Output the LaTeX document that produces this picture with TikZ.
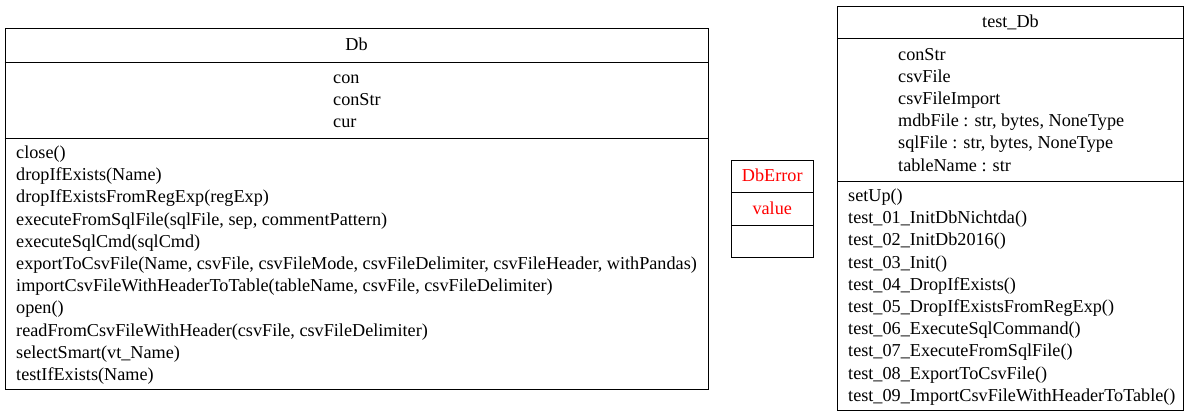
\documentclass[tikz,border=0pt]{standalone}
\usepackage{fontspec}
\setmainfont{Liberation Serif}
\tikzset{
  classbox/.style={draw=black, line width=1pt, inner sep=0pt, rectangle},
  sepline/.style={draw=black, line width=1pt},
  txt/.style={inner sep=0pt, anchor=base west, font=\fontsize{18.2}{22}\selectfont, text=black},
  ttl/.style={inner sep=0pt, anchor=base, font=\fontsize{18.2}{22}\selectfont, text=black},
  red/.style={text={rgb,255:red,255;green,0;blue,0}}
}
\begin{document}
\begin{tikzpicture}[x=1pt,y=-1pt]
\useasboundingbox (0,0) rectangle (1190,418);
% ---------- Db ----------
\node[classbox, minimum width=703pt, minimum height=361pt] (db) at (356.5,208.5) {};
\draw[sepline] (db.west |- 0,62) -- (db.east |- 0,62);
\draw[sepline] (db.west |- 0,138) -- (db.east |- 0,138);
\node[ttl] (dbt) at (356.5,50.5) {Db};
\node[txt] (dba1) at (333,83) {con};
\node[txt] (dba2) at (333,105.2) {conStr};
\node[txt] (dba3) at (333,127.4) {cur};
\node[txt] (dbm1) at (16,158.5) {close()};
\node[txt] (dbm2) at (16,180.7) {dropIfExists(Name)};
\node[txt] (dbm3) at (16,202.9) {dropIfExistsFromRegExp(regExp)};
\node[txt] (dbm4) at (16,225.1) {executeFromSqlFile(sqlFile, sep, commentPattern)};
\node[txt] (dbm5) at (16,247.3) {executeSqlCmd(sqlCmd)};
\node[txt] (dbm6) at (16,269.5) {exportToCsvFile(Name, csvFile, csvFileMode, csvFileDelimiter, csvFileHeader, withPandas)};
\node[txt] (dbm7) at (16,291.7) {importCsvFileWithHeaderToTable(tableName, csvFile, csvFileDelimiter)};
\node[txt] (dbm8) at (16,313.9) {open()};
\node[txt] (dbm9) at (16,336.1) {readFromCsvFileWithHeader(csvFile, csvFileDelimiter)};
\node[txt] (dbm10) at (16,358.3) {selectSmart(vt\_Name)};
\node[txt] (dbm11) at (16,380.5) {testIfExists(Name)};
% ---------- DbError ----------
\node[classbox, minimum width=81.5pt, minimum height=97.5pt] (err) at (772.25,208.75) {};
\draw[sepline] (err.west |- 0,192.5) -- (err.east |- 0,192.5);
\draw[sepline] (err.west |- 0,225) -- (err.east |- 0,225);
\node[ttl, red] (errt) at (772.25,181.5) {DbError};
\node[ttl, red] (erra) at (772.25,214) {value};
% ---------- test_Db ----------
\node[classbox, minimum width=346pt, minimum height=404pt] (tdb) at (1010.5,208) {};
\draw[sepline] (tdb.west |- 0,38.5) -- (tdb.east |- 0,38.5);
\draw[sepline] (tdb.west |- 0,181.5) -- (tdb.east |- 0,181.5);
\node[ttl] (tdbt) at (1010.5,27) {test\_Db};
\node[txt] (tdba1) at (898,60) {conStr};
\node[txt] (tdba2) at (898,82.2) {csvFile};
\node[txt] (tdba3) at (898,104.4) {csvFileImport};
\node[txt] (tdba4) at (898,126.6) {mdbFile : str, bytes, NoneType};
\node[txt] (tdba5) at (898,148.8) {sqlFile : str, bytes, NoneType};
\node[txt] (tdba6) at (898,171) {tableName : str};
\node[txt] (tdbm1) at (848,201.5) {setUp()};
\node[txt] (tdbm2) at (848,223.7) {test\_01\_InitDbNichtda()};
\node[txt] (tdbm3) at (848,245.9) {test\_02\_InitDb2016()};
\node[txt] (tdbm4) at (848,268.1) {test\_03\_Init()};
\node[txt] (tdbm5) at (848,290.3) {test\_04\_DropIfExists()};
\node[txt] (tdbm6) at (848,312.5) {test\_05\_DropIfExistsFromRegExp()};
\node[txt] (tdbm7) at (848,334.7) {test\_06\_ExecuteSqlCommand()};
\node[txt] (tdbm8) at (848,356.9) {test\_07\_ExecuteFromSqlFile()};
\node[txt] (tdbm9) at (848,379.1) {test\_08\_ExportToCsvFile()};
\node[txt] (tdbm10) at (848,401.3) {test\_09\_ImportCsvFileWithHeaderToTable()};
\end{tikzpicture}
\end{document}
